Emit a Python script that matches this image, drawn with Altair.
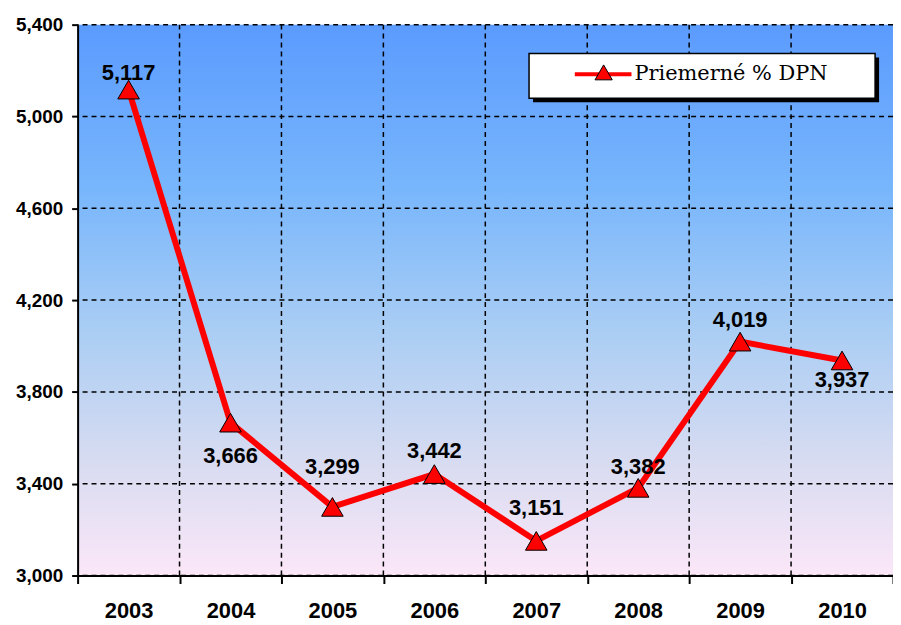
import altair as alt
import pandas as pd

# ---- data ----
years = ["2003", "2004", "2005", "2006", "2007", "2008", "2009", "2010"]
values = [5.117, 3.666, 3.299, 3.442, 3.151, 3.382, 4.019, 3.937]
y_ticks = [3.0, 3.4, 3.8, 4.2, 4.6, 5.0, 5.4]
series_name = "Priemerné % DPN"

df = pd.DataFrame({"year": years, "value": values})

W, H = 820, 554
FONT = "Liberation Sans"

# vertical offsets (px) of value labels, as placed in the reference
label_dy = {"2003": -17, "2004": 34, "2005": -40, "2006": -23,
            "2007": -33, "2008": -21, "2009": -22, "2010": 20}

x_scale = alt.Scale(type="band", paddingInner=0, paddingOuter=0, domain=years)
y_scale = alt.Scale(domain=[3.0, 5.4], nice=False, zero=False)

x_axis = alt.Axis(
    title=None, labelAngle=0, tickBand="extent", grid=False, zindex=1,
    domainColor="black", domainWidth=2, tickColor="black", tickWidth=2,
    tickSize=8, labelFont=FONT, labelFontSize=22, labelFontWeight="bold",
    labelColor="black", labelPadding=17,
)
y_axis = alt.Axis(
    title=None, values=y_ticks, grid=False, zindex=1,
    labelExpr="replace(format(datum.value, '.3f'), '.', ',')",
    domainColor="black", domainWidth=2, tickColor="black", tickWidth=2,
    tickSize=6, labelFont=FONT, labelFontSize=19, labelFontWeight="bold",
    labelColor="black", labelPadding=9,
)

x_enc = alt.X("year:O", bandPosition=0.5, scale=x_scale, axis=x_axis)
y_enc = alt.Y("value:Q", scale=y_scale, axis=y_axis)

gradient = alt.LinearGradient(
    gradient="linear", x1=0, x2=0, y1=0, y2=1,
    stops=[
        alt.GradientStop(color="#5b9bfe", offset=0),
        alt.GradientStop(color="#78b6fc", offset=0.3),
        alt.GradientStop(color="#a9cdf4", offset=0.55),
        alt.GradientStop(color="#d9dcf1", offset=0.8),
        alt.GradientStop(color="#fbe7f8", offset=1),
    ],
)

one = alt.Chart(pd.DataFrame({"k": [0]}))
bg = one.mark_rect(fill=gradient).encode(
    x=alt.value(0), x2=alt.value(W), y=alt.value(0), y2=alt.value(H))

# dashed grid
hgrid = alt.Chart(pd.DataFrame({"value": y_ticks})).mark_rule(
    color="black", strokeDash=[5, 4], strokeWidth=1.5).encode(
    y=alt.Y("value:Q", scale=y_scale, axis=y_axis))
vgrid = alt.Chart(pd.DataFrame({"year": years[1:]})).mark_rule(
    color="black", strokeDash=[5, 4], strokeWidth=1.5).encode(
    x=alt.X("year:O", bandPosition=0, scale=x_scale, axis=x_axis))

base = alt.Chart(df).encode(x=x_enc, y=y_enc)

line = base.mark_line(color="#ff0000", strokeWidth=6)
pts = base.mark_point(shape="triangle-up", filled=True, fill="#ff0000",
                      stroke="black", strokeWidth=1, size=470, opacity=1)

text_layers = []
for yr, dy in label_dy.items():
    text_layers.append(
        base.transform_filter(alt.datum.year == yr)
        .transform_calculate(lbl="replace(format(datum.value, '.3f'), '.', ',')")
        .mark_text(font=FONT, fontSize=22, fontWeight="bold", color="black",
                   baseline="middle", align="center", dy=dy)
        .encode(text="lbl:N")
    )

# ---- legend box (pixel space of the plot) ----
shadow = one.mark_rect(fill="black").encode(
    x=alt.value(458), x2=alt.value(806), y=alt.value(33), y2=alt.value(78))
box = one.mark_rect(fill="white", stroke="black", strokeWidth=1.5).encode(
    x=alt.value(454), x2=alt.value(802), y=alt.value(29), y2=alt.value(74))
leg_line = one.mark_rule(color="#ff0000", strokeWidth=4).encode(
    x=alt.value(500), x2=alt.value(557), y=alt.value(50))
leg_pt = one.mark_point(shape="triangle-up", filled=True, fill="#ff0000",
                        stroke="black", strokeWidth=1, size=300, opacity=1).encode(
    x=alt.value(529), y=alt.value(48))
leg_txt = one.mark_text(font="DejaVu Serif", fontSize=21, align="left",
                        baseline="middle", color="black").encode(
    x=alt.value(560), y=alt.value(50), text=alt.value(series_name))

chart = (
    alt.layer(bg, hgrid, vgrid, line, pts, *text_layers,
              shadow, box, leg_line, leg_pt, leg_txt)
    .properties(width=W, height=H,
                autosize=alt.AutoSizeParams(type="none"),
                padding={"left": 70, "top": 15, "right": 0, "bottom": 46},
                background="white")
    .configure_view(strokeWidth=0)
)

chart.save("out.html", embed_options={"renderer": "svg", "actions": False})
